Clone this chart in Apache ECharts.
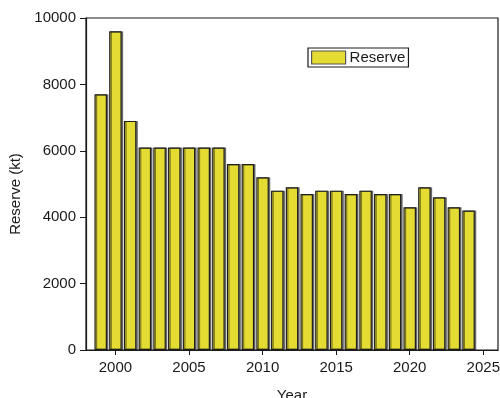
<!DOCTYPE html>
<html>
<head>
<meta charset="utf-8">
<script src="https://cdn.jsdelivr.net/npm/echarts@6/dist/echarts.min.js"></script>
<style>
  html, body { margin: 0; padding: 0; background: #fff; }
  #chart { width: 500px; height: 398px; }
</style>
</head>
<body>
<div id="chart"></div>
<script>
// Annual reserve, in kilotonnes
const years = [1999, 2000, 2001, 2002, 2003, 2004, 2005, 2006, 2007, 2008, 2009, 2010, 2011,
               2012, 2013, 2014, 2015, 2016, 2017, 2018, 2019, 2020, 2021, 2022, 2023, 2024];
const reserve = [7700, 9600, 6900, 6100, 6100, 6100, 6100, 6100, 6100, 5600, 5600, 5200, 4800,
                 4900, 4700, 4800, 4800, 4700, 4800, 4700, 4700, 4300, 4900, 4600, 4300, 4200];
const yearTicks = [2000, 2005, 2010, 2015, 2020, 2025];
const reserveTicks = [0, 2000, 4000, 6000, 8000, 10000];

const font = 'Liberation Sans, Arial, sans-serif';
const ink = '#1a1a1a';
const plain = v => String(v);

const chart = echarts.init(document.getElementById('chart'));
chart.setOption({
  animation: false,
  backgroundColor: '#fff',
  grid: {
    left: 86, right: 2, top: 18, bottom: 48,
    outerBoundsMode: 'none',
    containLabel: false,
    show: true, borderColor: ink, borderWidth: 1.2, backgroundColor: 'transparent'
  },
  legend: {
    data: ['Reserve'],
    left: 308, top: 48,
    icon: 'rect',
    itemWidth: 34, itemHeight: 13, itemGap: 4,
    padding: [2, 3, 2, 3],
    borderColor: ink, borderWidth: 1.2, borderRadius: 0,
    backgroundColor: '#fff',
    itemStyle: { borderColor: '#555', borderWidth: 1.2 },
    textStyle: { fontFamily: font, fontSize: 15, color: ink, padding: [0, 0, 0, -1] }
  },
  xAxis: {
    type: 'value',
    min: 1998, max: 2026,
    name: 'Year', nameLocation: 'middle', nameGap: 38,
    nameTextStyle: { fontFamily: font, fontSize: 15, color: ink },
    axisLine: { show: true, onZero: false, lineStyle: { color: ink, width: 1.2 } },
    axisTick: { show: true, length: 5, customValues: yearTicks, lineStyle: { color: ink } },
    axisLabel: { customValues: yearTicks, formatter: plain, fontFamily: font, fontSize: 15, color: ink, margin: 10 },
    splitLine: { show: false }
  },
  yAxis: {
    type: 'value',
    min: 0, max: 10000, interval: 2000,
    name: 'Reserve (kt)', nameLocation: 'middle', nameGap: 58,
    nameTextStyle: { fontFamily: font, fontSize: 15, color: ink, padding: [0, 0, 0, -20] },
    axisLine: { show: true, lineStyle: { color: ink, width: 1.2 } },
    axisTick: { show: true, length: 6, customValues: reserveTicks, lineStyle: { color: ink } },
    axisLabel: { customValues: reserveTicks, formatter: plain, fontFamily: font, fontSize: 15, color: ink, margin: 10 },
    splitLine: { show: false }
  },
  series: [{
    name: 'Reserve',
    type: 'bar',
    barWidth: 12.5,
    data: years.map((y, i) => [y, reserve[i]]),
    itemStyle: {
      color: '#e5dc33',
      borderColor: '#1e1e1e',
      borderWidth: 1.2,
      shadowColor: 'rgba(0,0,0,0.45)',
      shadowOffsetX: 1.5,
      shadowOffsetY: 0,
      shadowBlur: 0
    }
  }]
});
</script>
</body>
</html>
